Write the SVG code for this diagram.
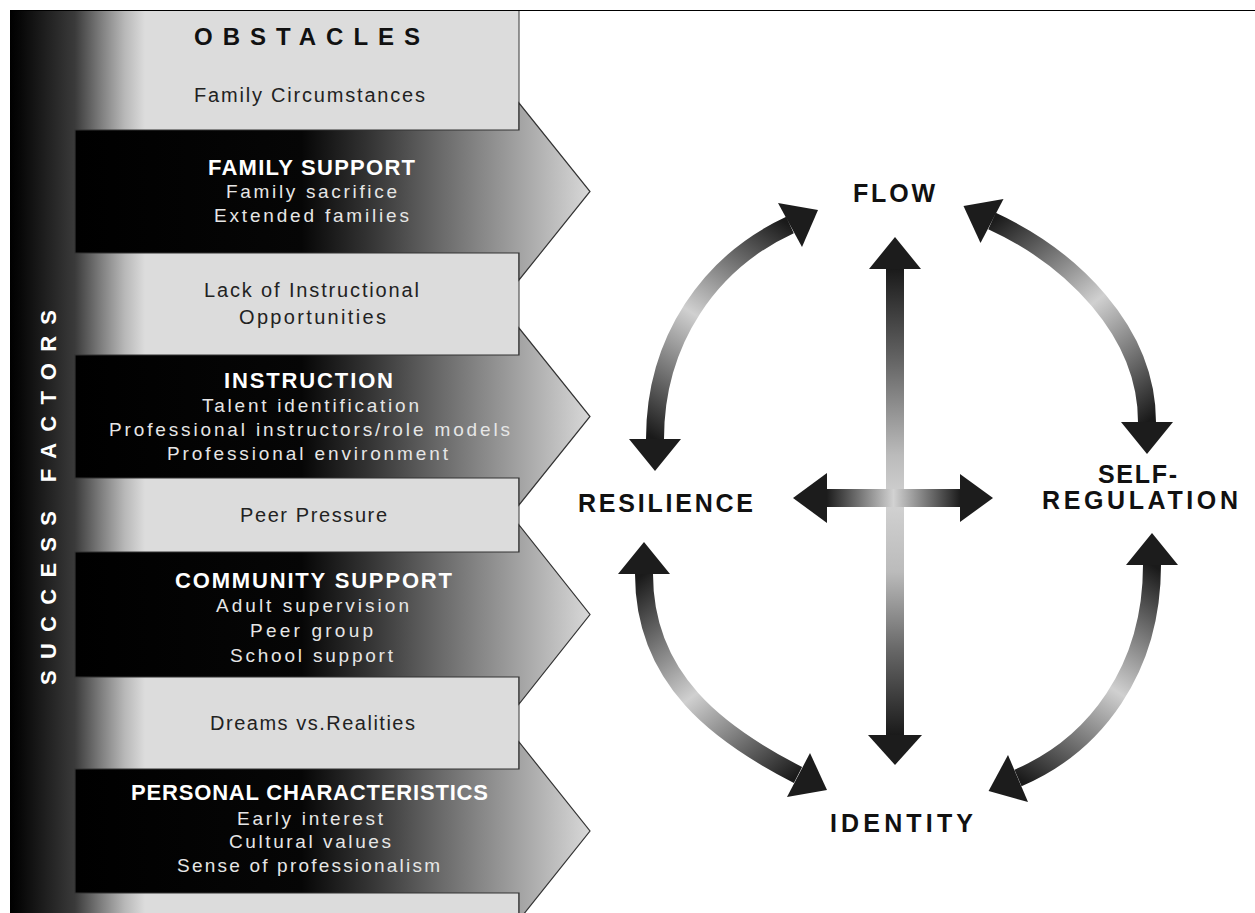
<svg xmlns="http://www.w3.org/2000/svg" width="1255" height="913" viewBox="0 0 1255 913">
<defs>
<style>
text{font-family:"Liberation Sans",Arial,sans-serif}
.obs{font-size:20px;fill:#222}
.head{font-size:22px;font-weight:bold;fill:#fff}
.sub{font-size:19px;fill:#e6e6e6}
.lbl{font-size:25px;font-weight:bold;fill:#111}
.band{fill:url(#bandGrad)}
.arrow{fill:url(#arrowGrad);stroke:#333;stroke-width:1.2}
.shaft{fill:none;stroke-width:18}
.tip{fill:#1c1c1c}
</style>
<linearGradient id="bandGrad" gradientUnits="userSpaceOnUse" x1="10" y1="0" x2="145" y2="0">
<stop offset="0" stop-color="#000"/>
<stop offset="0.08" stop-color="#080808"/>
<stop offset="0.48" stop-color="#3a3a3a"/>
<stop offset="0.68" stop-color="#808080"/>
<stop offset="0.85" stop-color="#b8b8b8"/>
<stop offset="1" stop-color="#dcdcdc"/>
</linearGradient>
<linearGradient id="arrowGrad" gradientUnits="userSpaceOnUse" x1="75" y1="0" x2="590" y2="0">
<stop offset="0" stop-color="#000"/>
<stop offset="0.44" stop-color="#060606"/>
<stop offset="0.57" stop-color="#333"/>
<stop offset="0.7" stop-color="#666"/>
<stop offset="0.84" stop-color="#9a9a9a"/>
<stop offset="1" stop-color="#d8d8d8"/>
</linearGradient>
<linearGradient id="gV" gradientUnits="userSpaceOnUse" x1="0" y1="269" x2="0" y2="735">
<stop offset="0" stop-color="#1a1a1a"/>
<stop offset="0.2" stop-color="#666"/>
<stop offset="0.4" stop-color="#bbb"/>
<stop offset="0.5" stop-color="#d2d2d2"/>
<stop offset="0.65" stop-color="#bbb"/>
<stop offset="0.82" stop-color="#666"/>
<stop offset="1" stop-color="#1a1a1a"/>
</linearGradient>
<linearGradient id="gH" gradientUnits="userSpaceOnUse" x1="826" y1="0" x2="961" y2="0">
<stop offset="0" stop-color="#1a1a1a"/>
<stop offset="0.3" stop-color="#888"/>
<stop offset="0.5" stop-color="#d2d2d2"/>
<stop offset="0.7" stop-color="#888"/>
<stop offset="1" stop-color="#1a1a1a"/>
</linearGradient>
<linearGradient id="gTL" gradientUnits="userSpaceOnUse" x1="655" y1="439" x2="790" y2="225">
<stop offset="0" stop-color="#1a1a1a"/>
<stop offset="0.5" stop-color="#d0d0d0"/>
<stop offset="1" stop-color="#1a1a1a"/>
</linearGradient>
<linearGradient id="gTR" gradientUnits="userSpaceOnUse" x1="992" y1="221" x2="1147" y2="422">
<stop offset="0" stop-color="#1a1a1a"/>
<stop offset="0.5" stop-color="#d0d0d0"/>
<stop offset="1" stop-color="#1a1a1a"/>
</linearGradient>
<linearGradient id="gBL" gradientUnits="userSpaceOnUse" x1="644" y1="574" x2="798" y2="775">
<stop offset="0" stop-color="#1a1a1a"/>
<stop offset="0.5" stop-color="#d0d0d0"/>
<stop offset="1" stop-color="#1a1a1a"/>
</linearGradient>
<linearGradient id="gBR" gradientUnits="userSpaceOnUse" x1="1152" y1="565" x2="1018" y2="778">
<stop offset="0" stop-color="#1a1a1a"/>
<stop offset="0.5" stop-color="#d0d0d0"/>
<stop offset="1" stop-color="#1a1a1a"/>
</linearGradient>
</defs>
<rect x="0" y="0" width="1255" height="913" fill="#fff"/>
<line x1="10" y1="10.5" x2="1255" y2="10.5" stroke="#000" stroke-width="1"/>

<g id="left-strip">
<rect class="band" x="10" y="11" width="509" height="902"/>
<line x1="519" y1="11" x2="519" y2="913" stroke="#555" stroke-width="1.2"/>
<text transform="translate(56,685) rotate(-90)" x="0" y="0" font-size="22" font-weight="bold" fill="#fff" textLength="375" lengthAdjust="spacing">SUCCESS FACTORS</text>
</g>

<g id="obstacle-family-circumstances">
<text x="194" y="45" font-size="24" font-weight="bold" fill="#111" textLength="226" lengthAdjust="spacing">OBSTACLES</text>
<text class="obs" x="194" y="102" textLength="231" lengthAdjust="spacing">Family Circumstances</text>
</g>

<g id="factor-family-support">
<polygon class="arrow" points="75,130 519,130 519,103 590,191.5 519,280 519,253 75,253"/>
<text class="head" x="208" y="175" textLength="207" lengthAdjust="spacing">FAMILY SUPPORT</text>
<text class="sub" x="226" y="198" textLength="171" lengthAdjust="spacing">Family sacrifice</text>
<text class="sub" x="214" y="222" textLength="195" lengthAdjust="spacing">Extended families</text>
</g>

<g id="obstacle-lack-of-instruction">
<text class="obs" x="204" y="297" textLength="215" lengthAdjust="spacing">Lack of Instructional</text>
<text class="obs" x="239" y="324" textLength="147" lengthAdjust="spacing">Opportunities</text>
</g>

<g id="factor-instruction">
<polygon class="arrow" points="75,355 519,355 519,328 590,416.5 519,505 519,478 75,478"/>
<text class="head" x="224" y="388" textLength="169" lengthAdjust="spacing">INSTRUCTION</text>
<text class="sub" x="202" y="412" textLength="217" lengthAdjust="spacing">Talent identification</text>
<text class="sub" x="109" y="436" textLength="401" lengthAdjust="spacing">Professional instructors/role models</text>
<text class="sub" x="167" y="460" textLength="281" lengthAdjust="spacing">Professional environment</text>
</g>

<g id="obstacle-peer-pressure">
<text class="obs" x="240" y="522" textLength="147" lengthAdjust="spacing">Peer Pressure</text>
</g>

<g id="factor-community-support">
<polygon class="arrow" points="75,552 519,552 519,525 590,614.5 519,704 519,677 75,677"/>
<text class="head" x="175" y="588" textLength="277" lengthAdjust="spacing">COMMUNITY SUPPORT</text>
<text class="sub" x="216" y="612" textLength="193" lengthAdjust="spacing">Adult supervision</text>
<text class="sub" x="250" y="637" textLength="123" lengthAdjust="spacing">Peer group</text>
<text class="sub" x="230" y="662" textLength="163" lengthAdjust="spacing">School support</text>
</g>

<g id="obstacle-dreams">
<text class="obs" x="210" y="730" textLength="205" lengthAdjust="spacing">Dreams vs.Realities</text>
</g>

<g id="factor-personal-characteristics">
<polygon class="arrow" points="75,769 519,769 519,742 590,831 519,920 519,893 75,893"/>
<text class="head" x="131" y="800" textLength="357" lengthAdjust="spacing">PERSONAL CHARACTERISTICS</text>
<text class="sub" x="237" y="825" textLength="146" lengthAdjust="spacing">Early interest</text>
<text class="sub" x="229" y="848" textLength="162" lengthAdjust="spacing">Cultural values</text>
<text class="sub" x="177" y="872" textLength="263" lengthAdjust="spacing">Sense of professionalism</text>
</g>

<g id="connectors">
<path class="shaft" d="M895 269 V735" stroke="url(#gV)"/>
<polygon class="tip" points="869,269 921,269 895,237"/>
<polygon class="tip" points="868,735 922,735 895,765"/>
<path class="shaft" d="M826 498 H961" stroke="url(#gH)" stroke-width="16"/>
<polygon class="tip" points="827,473 827,523 793,498"/>
<polygon class="tip" points="960,474 960,522 993,498"/>
<path class="shaft" d="M655 439 C655 340 710 262 790 225" stroke="url(#gTL)"/>
<polygon class="tip" points="629,439 681,439 655,471"/>
<polygon class="tip" points="778,203 802,247 818,210"/>
<path class="shaft" d="M992 221 C1070 257 1147 330 1147 422" stroke="url(#gTR)"/>
<polygon class="tip" points="1003.5,199 980.5,243 963.5,206"/>
<polygon class="tip" points="1121,422 1173,422 1147,454"/>
<path class="shaft" d="M644 574 C644 680 720 735 798 775" stroke="url(#gBL)"/>
<polygon class="tip" points="618,574 670,574 644,542"/>
<polygon class="tip" points="810,753 787,797 827,790"/>
<path class="shaft" d="M1152 565 C1152 670 1095 745 1018 778" stroke="url(#gBR)"/>
<polygon class="tip" points="1126,565 1178,565 1152,533"/>
<polygon class="tip" points="1008,755 1028,802 988.6,791"/>
</g>

<g id="node-flow"><text class="lbl" x="853" y="202" textLength="82" lengthAdjust="spacing">FLOW</text></g>
<g id="node-resilience"><text class="lbl" x="578" y="512" textLength="175" lengthAdjust="spacing">RESILIENCE</text></g>
<g id="node-self-regulation">
<text class="lbl" x="1098" y="483" textLength="79" lengthAdjust="spacing">SELF-</text>
<text class="lbl" x="1042" y="509" textLength="196" lengthAdjust="spacing">REGULATION</text>
</g>
<g id="node-identity"><text class="lbl" x="830" y="832" textLength="143" lengthAdjust="spacing">IDENTITY</text></g>
</svg>
